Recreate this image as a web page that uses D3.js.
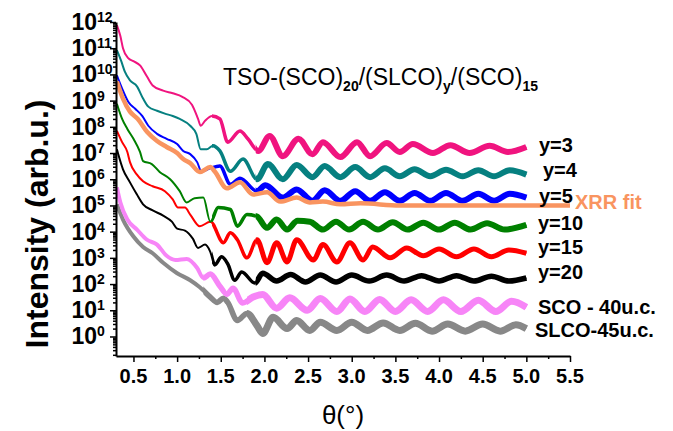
<!DOCTYPE html>
<html><head><meta charset="utf-8">
<script src="https://cdn.jsdelivr.net/npm/d3@7"></script>
<style>body{margin:0;background:#fff}svg{display:block}text{font-family:Arial,"Liberation Sans",sans-serif}</style>
</head><body><svg id="c" width="673" height="431"></svg>
<script>
// ---- data ----
const xMajorTicks = [0.5,1.0,1.5,2.0,2.5,3.0,3.5,4.0,4.5,5.0,5.5];
const xMinorTicks = [0.75,1.25,1.75,2.25,2.75,3.25,3.75,4.25,4.75,5.25];
const yExponents = [0,1,2,3,4,5,6,7,8,9,10,11,12];
const titleParts = [["TSO-(SCO)",0],["20",1],["/(SLCO)",0],["y",1],["/(SCO)",0],["15",1]];
const seriesLabels = ["y=3","y=4","y=5","XRR fit","y=10","y=15","y=20","SCO - 40u.c.","SLCO-45u.c."];

const y3 = [[0.31,7.6e11],[0.35,2.9e11],[0.38,1.0e11],[0.44,4.2e10],[0.50,3.2e10],[0.575,2.2e10],[0.655,8.3e9],[0.72,3.8e9],[0.84,2.4e9],[0.95,1.9e9],[1.06,1.4e9],[1.17,7.0e8],[1.24,2.0e8],[1.27,1.1e8],[1.32,1.7e8],[1.40,2.6e8],[1.49,2.0e8],[1.58,2.6e7],[1.72,7.0e7],[1.81,3.5e7],[1.93,1.2e7],[2.06,4.5e7],[2.21,7.6e6],[2.39,3.5e7],[2.55,9.0e6],[2.67,2.6e7],[2.87,7.0e6],[3.06,2.6e7],[3.21,7.6e6],[3.40,2.4e7],[3.55,1.1e7],[3.70,2.2e7],[3.93,1.0e7],[4.13,2.0e7],[4.35,1.0e7],[4.58,1.9e7],[4.79,1.1e7],[5.0,1.7e7]];
const y4 = [[0.31,8.4e10],[0.36,3.2e10],[0.40,1.3e10],[0.46,5.9e9],[0.54,3.5e9],[0.61,1.2e9],[0.67,5.9e8],[0.77,4.1e8],[0.86,3.2e8],[0.95,2.6e8],[1.03,2.0e8],[1.15,1.1e8],[1.22,5.4e7],[1.27,1.4e7],[1.34,1.4e7],[1.41,1.9e7],[1.49,1.2e7],[1.61,2.0e6],[1.755,5.9e6],[1.915,1.0e6],[2.04,3.8e6],[2.21,1.0e6],[2.37,3.5e6],[2.55,1.2e6],[2.69,3.2e6],[2.87,1.2e6],[3.04,2.9e6],[3.21,1.2e6],[3.38,2.6e6],[3.55,1.3e6],[3.72,2.4e6],[3.90,1.3e6],[4.08,2.3e6],[4.27,1.3e6],[4.45,2.2e6],[4.63,1.3e6],[4.81,2.2e6],[5.0,1.5e6]];
const y5 = [[0.31,9.2e9],[0.38,2.4e9],[0.44,9.1e8],[0.52,4.9e8],[0.60,2.6e8],[0.67,1.1e8],[0.77,5.4e7],[0.88,3.5e7],[1.0,2.2e7],[1.07,1.2e7],[1.15,9.1e6],[1.23,4.5e6],[1.28,1.9e6],[1.38,2.6e6],[1.49,3.2e6],[1.61,6.4e5],[1.72,1.1e6],[1.915,3.5e5],[2.01,5.9e5],[2.21,2.0e5],[2.37,4.1e5],[2.55,1.5e5],[2.69,3.8e5],[2.87,1.5e5],[3.04,3.5e5],[3.21,1.5e5],[3.38,3.2e5],[3.55,1.5e5],[3.72,3.0e5],[3.90,1.5e5],[4.08,3.0e5],[4.27,1.5e5],[4.45,2.8e5],[4.63,1.5e5],[4.81,2.8e5],[5.0,2.0e5]];
const xrrFit = [[0.31,5.4e9],[0.38,1.2e9],[0.46,3.8e8],[0.55,2.0e8],[0.655,6.5e7],[0.77,2.9e7],[0.88,1.7e7],[1.0,1.0e7],[1.07,5.9e6],[1.15,4.1e6],[1.26,1.9e6],[1.38,2.9e6],[1.43,2.0e6],[1.57,4.5e5],[1.72,7.6e5],[1.87,2.6e5],[2.03,3.2e5],[2.18,1.4e5],[2.37,2.0e5],[2.52,1.3e5],[2.67,1.4e5],[2.87,1.1e5],[3.10,1.2e5],[3.55,1.0e5],[5.5,1.0e5]];
const y10 = [[0.31,7.6e8],[0.37,2.0e8],[0.43,8.3e7],[0.50,3.5e7],[0.575,1.1e7],[0.61,4.9e6],[0.71,3.8e6],[0.80,1.9e6],[0.92,1.0e6],[1.03,3.5e5],[1.11,1.3e5],[1.20,1.9e5],[1.30,2.0e5],[1.38,2.4e4],[1.47,8.3e4],[1.61,7.0e4],[1.69,1.6e4],[1.80,4.5e4],[1.915,3.8e4],[2.03,1.4e4],[2.14,2.9e4],[2.26,1.2e4],[2.38,2.6e4],[2.52,2.4e4],[2.67,1.2e4],[2.82,2.4e4],[2.97,1.2e4],[3.13,2.4e4],[3.30,1.2e4],[3.47,2.3e4],[3.64,1.2e4],[3.82,2.2e4],[4.0,1.2e4],[4.18,2.2e4],[4.36,1.2e4],[4.55,2.1e4],[4.75,1.2e4],[5.0,1.8e4]];
const y15 = [[0.31,7.0e7],[0.37,2.6e7],[0.43,1.1e7],[0.46,4.5e6],[0.54,1.5e6],[0.61,8.3e5],[0.72,5.4e5],[0.86,3.5e5],[0.95,1.7e5],[1.01,8.3e4],[1.09,8.3e4],[1.15,4.5e4],[1.26,1.6e4],[1.38,2.4e4],[1.53,3.8e3],[1.61,9.1e3],[1.69,4.9e3],[1.80,1.0e3],[1.915,4.9e3],[2.03,6.5e2],[2.14,3.8e3],[2.26,7.0e2],[2.37,4.9e3],[2.56,8.3e2],[2.67,3.2e3],[2.83,7.0e2],[2.98,3.8e3],[3.13,8.3e2],[3.24,2.6e3],[3.44,1.0e3],[3.63,2.4e3],[3.82,1.2e3],[4.0,2.2e3],[4.2,1.1e3],[4.4,2.2e3],[4.6,1.1e3],[4.8,2.0e3],[5.0,1.5e3]];
const y20 = [[0.31,1.4e7],[0.33,8.0e6],[0.38,2.4e6],[0.46,7.6e5],[0.54,2.6e5],[0.61,1.1e5],[0.72,6.5e4],[0.84,4.1e4],[0.94,2.4e4],[1.0,1.3e4],[1.09,1.1e4],[1.18,5.4e3],[1.24,2.4e3],[1.32,3.2e3],[1.38,1.7e3],[1.43,5.4e2],[1.51,1.1e3],[1.58,5.9e2],[1.66,1.4e2],[1.74,2.9e2],[1.89,1.1e2],[1.98,2.6e2],[2.14,1.3e2],[2.30,2.3e2],[2.47,1.2e2],[2.64,2.2e2],[2.82,1.2e2],[3.0,2.2e2],[3.2,1.3e2],[3.4,2.2e2],[3.6,1.3e2],[3.8,2.1e2],[4.0,1.3e2],[4.2,2.1e2],[4.4,1.3e2],[4.6,2.0e2],[4.8,1.3e2],[5.0,1.7e2]];
const sco40 = [[0.31,4.9e5],[0.35,1.3e5],[0.43,2.9e4],[0.54,1.2e4],[0.655,4.9e3],[0.77,3.2e3],[0.88,1.2e3],[0.98,8.3e2],[1.11,9.1e2],[1.23,4.1e2],[1.30,1.7e2],[1.38,2.4e2],[1.49,83],[1.57,41],[1.64,70],[1.75,19],[1.87,32],[1.98,40],[2.14,12],[2.29,30],[2.49,10],[2.64,28],[2.83,9],[2.98,27],[3.15,9],[3.32,26],[3.5,9],[3.68,25],[3.87,9],[4.05,25],[4.25,9],[4.45,24],[4.65,9],[4.83,22],[5.0,13]];
const slco45 = [[0.31,1.1e5],[0.38,2.9e4],[0.50,6.5e3],[0.61,2.6e3],[0.72,1.5e3],[0.84,6.5e2],[1.0,2.6e2],[1.15,1.4e2],[1.26,76],[1.38,32],[1.46,20],[1.53,29],[1.58,20],[1.69,4.1],[1.80,7.6],[1.915,2.6],[1.98,1.3],[2.10,5.4],[2.26,2.0],[2.37,4.1],[2.52,1.7],[2.64,3.5],[2.83,1.7],[3.0,3.5],[3.18,1.7],[3.36,3.3],[3.55,1.7],[3.73,3.2],[3.92,1.6],[4.1,3.0],[4.3,1.6],[4.5,3.0],[4.7,1.6],[4.88,2.8],[5.0,2.0]];

// ---- layout / scales ----
const svg = d3.select("#c");
const x = d3.scaleLinear().domain([0.3,5.5]).range([116,570]);
const y = d3.scaleLog().domain([0.18,1e12]).range([356,22]);
const line = d3.line().x(d=>x(d[0])).y(d=>y(d[1])).curve(d3.curveMonotoneX);

// style per series: widths for theta < n1, n1..n2, > n2
const series = [
  {data:slco45, color:"#888888", w:[4,5.5,7], n:[1.3,1.8], label:seriesLabels[8], lx:535, ly:337},
  {data:sco40,  color:"#f785f7", w:[4,5.5,7], n:[1.3,1.8], label:seriesLabels[7], lx:538, ly:314},
  {data:y20,    color:"#000000", w:[2,3.5,5.5], n:[1.4,1.9], label:seriesLabels[6], lx:538, ly:279},
  {data:y15,    color:"#ff0000", w:[2,3.5,5], n:[1.4,1.9], label:seriesLabels[5], lx:538, ly:254},
  {data:y10,    color:"#008000", w:[2,3.5,6], n:[1.4,1.9], label:seriesLabels[4], lx:538, ly:230},
  {data:y5,     color:"#0000ff", w:[2,3.5,6], n:[1.4,1.9], label:seriesLabels[2], lx:539, ly:203},
  {data:xrrFit, color:"#f99460", w:[4.5,4.5,4.5], n:[9,9], label:seriesLabels[3], lx:575, ly:209},
  {data:y4,     color:"#068080", w:[2,3.5,6], n:[1.4,1.9], label:seriesLabels[1], lx:543, ly:177},
  {data:y3,     color:"#f0147f", w:[2,3.5,6], n:[1.4,1.9], label:seriesLabels[0], lx:539, ly:152},
];

const defs = svg.append("defs");
const plot = svg.append("g");
series.forEach((s,i)=>{
  const d = line(s.data);
  plot.append("path").attr("d",d).attr("fill","none")
    .attr("stroke",s.color).attr("stroke-width",s.w[0]).attr("stroke-linejoin","round");
  [1,2].forEach(k=>{
    const x0 = s.n[k-1];
    if (x0 > 6) return;
    const x1 = k===1 ? s.n[1] : 6;
    const id = "cl"+i+"_"+k;
    defs.append("clipPath").attr("id",id).append("rect")
      .attr("x",x(x0)).attr("y",0).attr("width",x(x1)-x(x0)+ (k===2?60:0)).attr("height",431);
    plot.append("path").attr("d",d).attr("fill","none").attr("clip-path","url(#"+id+")")
      .attr("stroke",s.color).attr("stroke-width",s.w[k]).attr("stroke-linejoin","round");
  });
});

// labels
series.forEach(s=>{
  svg.append("text").attr("x",s.lx).attr("y",s.ly).text(s.label)
    .attr("font-size",20).attr("font-weight","bold")
    .attr("fill", s.data===xrrFit ? s.color : "#000");
});

// ---- axes ----
svg.append("g").attr("transform","translate(0,356)")
  .call(d3.axisBottom(x).tickValues(xMajorTicks).tickSize(6).tickSizeOuter(0).tickFormat(""));
const xMinor = svg.append("g").attr("transform","translate(0,356)")
  .call(d3.axisBottom(x).tickValues(xMinorTicks).tickSize(3).tickSizeOuter(0).tickFormat(""));
xMinor.select(".domain").remove();
xMajorTicks.forEach(v=>{
  svg.append("text").attr("x",x(v)).attr("y",383).attr("text-anchor","middle")
    .attr("font-size",20).attr("font-weight","bold").text(d3.format(".1f")(v));
});

const yMajor = yExponents.map(e=>Math.pow(10,e));
const yMinorVals = [];
for (let e=-1;e<=11;e++) for (let m=2;m<=9;m++){ const v=m*Math.pow(10,e); if (v>=0.18 && v<=1e12) yMinorVals.push(v); }
svg.append("g").attr("transform","translate(116,0)")
  .call(d3.axisLeft(y).tickValues(yMajor).tickSize(6).tickSizeOuter(0).tickFormat(""));
const yMin = svg.append("g").attr("transform","translate(116,0)")
  .call(d3.axisLeft(y).tickValues(yMinorVals).tickSize(3).tickSizeOuter(0).tickFormat(""));
yMin.select(".domain").remove();
svg.selectAll(".domain").attr("stroke-width",2);
svg.selectAll(".tick line").attr("stroke-width",1.5);

yExponents.forEach(e=>{
  const ty = y(Math.pow(10,e));
  svg.append("text").attr("x",97).attr("y",ty+8).attr("text-anchor","end")
    .attr("font-size",23).attr("font-weight","bold").text("10");
  svg.append("text").attr("x",97).attr("y",ty).attr("text-anchor","start")
    .attr("font-size",14).attr("font-weight","bold").text(String(e));
});

// axis titles
svg.append("text").attr("x",343).attr("y",424).attr("text-anchor","middle")
  .attr("font-size",26).text("θ(°)");
svg.append("text").attr("transform","translate(48,224) rotate(-90)").attr("text-anchor","middle")
  .attr("font-size",32).attr("font-weight","bold").text("Intensity (arb.u.)");

// title
const t = svg.append("text").attr("x",223).attr("y",85).attr("font-size",23);
titleParts.forEach(([s,sub],i)=>{
  const ts = t.append("tspan").text(s);
  if (sub) ts.attr("font-size",14).attr("font-weight","bold").attr("dy",6);
  else if (i>0) ts.attr("dy",-6);
});
</script></body></html>
